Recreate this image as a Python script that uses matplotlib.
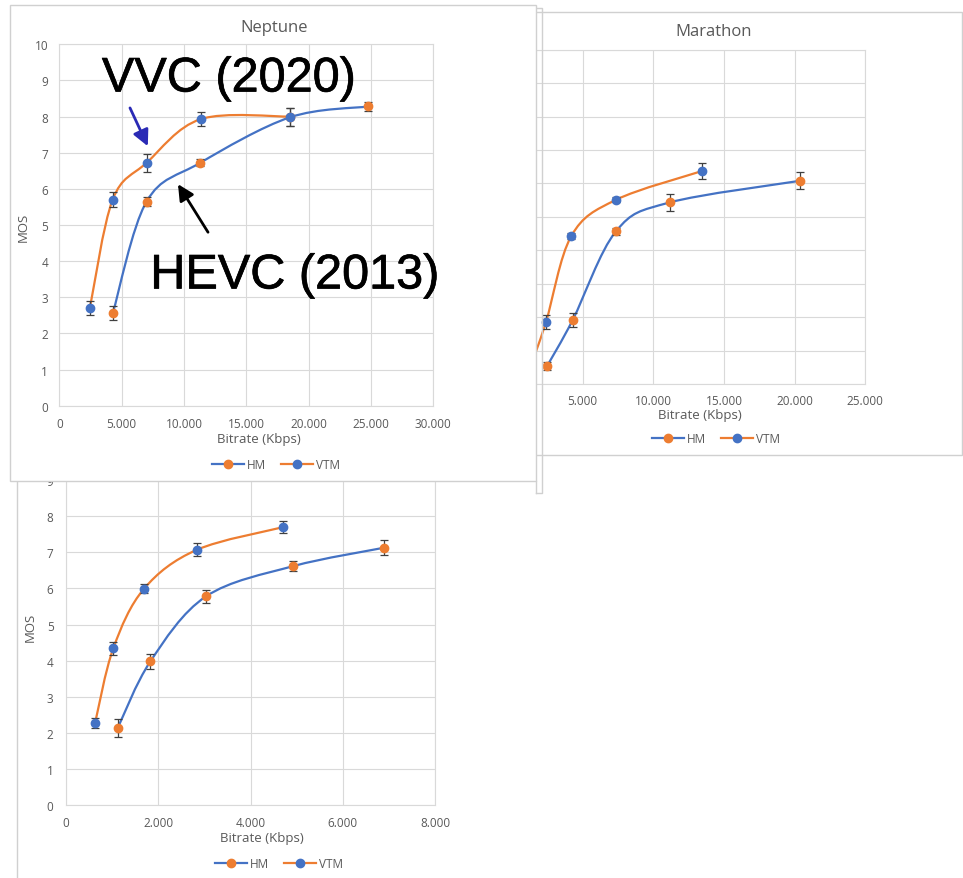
import matplotlib
matplotlib.use("Agg")
import matplotlib.pyplot as plt
import matplotlib.transforms as mtransforms
import matplotlib.patheffects as pe
from matplotlib.path import Path
from matplotlib.patches import PathPatch, Rectangle
from matplotlib.lines import Line2D
from matplotlib.ticker import FuncFormatter, MultipleLocator

W, H = 963, 879

# Neptune
nep_hm_x = [4300, 7000, 11300, 18500, 24800]
nep_hm_y = [2.57, 5.65, 6.72, 7.98, 8.28]
nep_hm_err = [0.2, 0.12, 0.1, 0.25, 0.12]
nep_vtm_x = [2450, 4280, 7000, 11350, 18500]
nep_vtm_y = [2.70, 5.70, 6.72, 7.93, 8.00]
nep_vtm_err = [0.2, 0.2, 0.25, 0.2, 0.25]

# Marathon
mar_hm_x = [2500, 4290, 7360, 11150, 20400]
mar_hm_y = [0.55, 1.91, 4.57, 5.43, 6.08]
mar_hm_err = [0.12, 0.2, 0.1, 0.25, 0.25]
mar_vtm_x = [1250, 2400, 4200, 7360, 13440]
mar_vtm_y = [0.45, 1.85, 4.43, 5.51, 6.37]
mar_vtm_err = [0.15, 0.2, 0.1, 0.08, 0.25]

# troisième séquence (graphique du bas)
bot_hm_x = [1120, 1830, 3035, 4930, 6900]
bot_hm_y = [2.13, 3.98, 5.78, 6.62, 7.13]
bot_hm_err = [0.25, 0.2, 0.18, 0.14, 0.2]
bot_vtm_x = [630, 1025, 1690, 2835, 4710]
bot_vtm_y = [2.27, 4.34, 5.99, 7.07, 7.70]
bot_vtm_err = [0.15, 0.17, 0.12, 0.18, 0.17]

legend_labels = ["HM", "VTM"]

BLUE = "#4472C4"
ORANGE = "#ED7D31"
GRID = "#d9d9d9"
FRAME = "#d0d0d0"
TXT = "#595959"
ERR = "#404040"

plt.rcParams["font.family"] = ["Open Sans", "DejaVu Sans"]

fig = plt.figure(figsize=(W / 100, H / 100), dpi=100)
# coordonnées en pixels, origine en haut à gauche
PX = mtransforms.Affine2D().scale(1 / W, -1 / H).translate(0, 1) + fig.transFigure


def make_axes(left, top, right, bottom, z):
    return fig.add_axes([left / W, 1 - bottom / H, (right - left) / W, (bottom - top) / H], zorder=z)


def thousands(v, pos):
    return f"{int(round(v)):,}".replace(",", ".")


def style(ax, xmax, xstep, ymax, xpad, ypad):
    ax.set_xlim(0, xmax)
    ax.set_ylim(0, ymax)
    ax.xaxis.set_major_locator(MultipleLocator(xstep))
    ax.yaxis.set_major_locator(MultipleLocator(1))
    ax.xaxis.set_major_formatter(FuncFormatter(thousands))
    ax.grid(True, color=GRID, lw=0.8)
    ax.set_axisbelow(True)
    for s in ax.spines.values():
        s.set_color(GRID)
        s.set_linewidth(0.8)
    ax.tick_params(length=0, labelsize=8.5, labelcolor=TXT)
    ax.tick_params(axis="x", pad=xpad)
    ax.tick_params(axis="y", pad=ypad)


def smooth_path(xs, ys):
    # courbe lissée façon Excel (Bezier / Catmull-Rom)
    pts = list(zip(xs, ys))
    n = len(pts)
    verts = [pts[0]]
    codes = [Path.MOVETO]
    for i in range(n - 1):
        p0 = pts[max(i - 1, 0)]
        p1 = pts[i]
        p2 = pts[i + 1]
        p3 = pts[min(i + 2, n - 1)]
        c1 = (p1[0] + (p2[0] - p0[0]) / 6, p1[1] + (p2[1] - p0[1]) / 6)
        c2 = (p2[0] - (p3[0] - p1[0]) / 6, p2[1] - (p3[1] - p1[1]) / 6)
        verts += [c1, c2, p2]
        codes += [Path.CURVE4] * 3
    return Path(verts, codes)


def series(ax, xs, ys, err, line_c, mark_c):
    ax.add_patch(PathPatch(smooth_path(xs, ys), fill=False, ec=line_c, lw=1.6, zorder=3))
    ax.errorbar(xs, ys, yerr=err, fmt="none", ecolor=ERR, elinewidth=0.9,
                capsize=3, capthick=0.9, zorder=4)
    ax.plot(xs, ys, ls="none", marker="o", ms=6, color=mark_c, zorder=5)


def decorate(ax, title, title_xy, xlabel_xy, ylabel_xy, legend_xy):
    if title:
        ax.text(*title_xy, title, transform=PX, ha="center", va="center", fontsize=12, color=TXT)
    ax.text(*xlabel_xy, "Bitrate (Kbps)", transform=PX, ha="center", va="center", fontsize=9.5, color=TXT)
    if ylabel_xy:
        ax.text(*ylabel_xy, "MOS", transform=PX, ha="center", va="center", rotation=90,
                fontsize=9.5, color=TXT)
    handles = [
        Line2D([], [], color=BLUE, lw=1.6, marker="o", ms=6, mfc=ORANGE, mec=ORANGE),
        Line2D([], [], color=ORANGE, lw=1.6, marker="o", ms=6, mfc=BLUE, mec=BLUE),
    ]
    ax.legend(handles, legend_labels, loc="center", bbox_to_anchor=legend_xy, bbox_transform=PX,
              ncol=2, frameon=False, fontsize=8.5, handlelength=2.7, columnspacing=1.2,
              handletextpad=0.3, labelcolor=TXT)


# cadres des panneaux de fond
fig.add_artist(Rectangle((530, 13), 432, 443, transform=PX, fc="white", ec=FRAME, lw=1, zorder=0.5))
fig.add_artist(Line2D([17, 17], [482, 879], transform=PX, color=FRAME, lw=1, zorder=0.5))
fig.add_artist(Line2D([536, 542, 542, 536], [9, 9, 494, 494], transform=PX, color=FRAME, lw=1, zorder=1.5))
fig.add_artist(Line2D([536, 536], [482, 494], transform=PX, color=FRAME, lw=1, zorder=1.5))

# Marathon
ax_m = make_axes(512, 50.7, 865.3, 385, 1)
style(ax_m, 25000, 5000, 10, 7, 8)
series(ax_m, mar_hm_x, mar_hm_y, mar_hm_err, BLUE, ORANGE)
series(ax_m, mar_vtm_x, mar_vtm_y, mar_vtm_err, ORANGE, BLUE)
decorate(ax_m, "Marathon", (714, 32), (700, 416), None, (716, 440))

# bas
ax_b = make_axes(66, 481.2, 435, 806, 1)
style(ax_b, 8000, 2000, 9, 8, 9)
series(ax_b, bot_hm_x, bot_hm_y, bot_hm_err, BLUE, ORANGE)
series(ax_b, bot_vtm_x, bot_vtm_y, bot_vtm_err, ORANGE, BLUE)
decorate(ax_b, None, None, (262, 839), (30, 627), (279, 865))

# panneau Neptune au premier plan
fig.add_artist(Rectangle((10, 6), 526, 476, transform=PX, fc="white", ec=FRAME, lw=1, zorder=2))
ax_n = make_axes(59.3, 45.3, 433.3, 406.7, 3)
style(ax_n, 30000, 5000, 10, 8, 8)
series(ax_n, nep_hm_x, nep_hm_y, nep_hm_err, BLUE, ORANGE)
series(ax_n, nep_vtm_x, nep_vtm_y, nep_vtm_err, ORANGE, BLUE)
decorate(ax_n, "Neptune", (274, 28), (259, 440), (23, 227), (276, 466))

# annotations
trait = [pe.withStroke(linewidth=0.5, foreground="black")]
ax_n.text(13600, 9.04, "VVC (2020)", fontsize=35, family="Liberation Sans", color="black",
          ha="center", va="center", zorder=10, clip_on=False, path_effects=trait)
ax_n.text(18900, 3.59, "HEVC (2013)", fontsize=35, family="Liberation Sans", color="black",
          ha="center", va="center", zorder=10, clip_on=False, path_effects=trait)
ax_n.annotate("", xy=(7100, 7.18), xytext=(5670, 8.24),
              arrowprops=dict(arrowstyle="-|>", color="#2a2ab5", lw=2, mutation_scale=24,
                              shrinkA=0, shrinkB=0), zorder=10)
ax_n.annotate("", xy=(9520, 6.13), xytext=(11930, 4.80),
              arrowprops=dict(arrowstyle="-|>", color="black", lw=2, mutation_scale=24,
                              shrinkA=0, shrinkB=0), zorder=10)

fig.savefig("out.png", dpi=100, facecolor="white")
